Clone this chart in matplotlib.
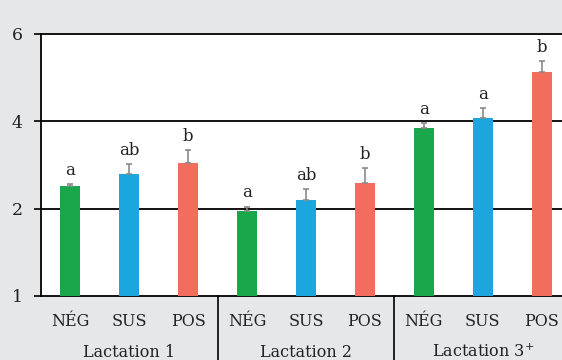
import numpy as np
import matplotlib
matplotlib.use("Agg")
from matplotlib import pyplot as plt
import matplotlib.transforms as mtransforms

# values
categories = ["NÉG", "SUS", "POS"] * 3
groups = ["Lactation 1", "Lactation 2", "Lactation 3$^{+}$"]
values = [2.52, 2.79, 3.05, 1.97, 2.20, 2.59, 3.85, 4.08, 5.13]
errors = [0.04, 0.23, 0.29, 0.07, 0.24, 0.33, 0.11, 0.22, 0.25]
letters = ["a", "ab", "b", "a", "ab", "b", "a", "a", "b"]
ytick_vals = [1, 2, 4, 6]
colors = ["#1aa64b", "#1ba6de", "#f26d5b"] * 3

plt.rcParams['font.family'] = ['DejaVu Serif']

# axis ticks are evenly spaced although 1,2,4,6 are not
pos = [0, 1, 2, 3]
fwd = lambda v: np.interp(v, ytick_vals, pos)
inv = lambda u: np.interp(u, pos, ytick_vals)

fig = plt.figure(figsize=(5.62, 3.6), dpi=100)
fig.patch.set_facecolor("#e6e7e8")
ax = fig.add_axes([41/562, 64/360, 530/562, 262/360])
ax.set_facecolor("white")
ax.set_yscale("function", functions=(fwd, inv))
ax.set_ylim(1, 6)
ax.set_xlim(-0.5, 8.5)

x = np.arange(len(values))
v = np.array(values)
ax.bar(x, v - 1, bottom=1, width=0.34, color=colors, zorder=3)
ax.errorbar(x, v, yerr=[np.zeros(len(v)), errors], fmt="none",
            ecolor="#8a8a8a", elinewidth=1.2, capsize=2, capthick=1.2, zorder=4)

for xi, vi, ei, lab in zip(x, v, errors, letters):
    ax.annotate(lab, (xi, vi + ei), xytext=(0, 4), textcoords="offset points",
                ha="center", va="bottom", fontsize=12, color="#222222")

for yv in [2, 4]:
    ax.axhline(yv, color="black", lw=1.3, zorder=2)

for s in ["left", "top", "bottom"]:
    ax.spines[s].set_linewidth(1.3)
ax.spines["right"].set_visible(False)

ax.set_yticks(ytick_vals)
ax.set_yticklabels([str(t) for t in ytick_vals], fontsize=12.5)
ax.yaxis.set_minor_locator(plt.NullLocator())
ax.tick_params(axis="y", length=5, width=1.2, pad=8, labelcolor="#222222")

ax.set_xticks(x)
ax.set_xticklabels(categories, fontsize=11.5, color="#222222")
ax.tick_params(axis="x", length=0, pad=12)

# group separators and names below the axis
for sx in [2.5, 5.5]:
    ax.axvline(sx, ymin=-0.3, ymax=0, color="black", lw=1.2, clip_on=False)

trans = mtransforms.blended_transform_factory(ax.transData, ax.transAxes)
for i, g in enumerate(groups):
    ax.text(3 * i + 1, -0.215, g, transform=trans, ha="center", va="center",
            fontsize=11.5, color="#222222")

fig.savefig("out.png", dpi=100, facecolor=fig.get_facecolor())
